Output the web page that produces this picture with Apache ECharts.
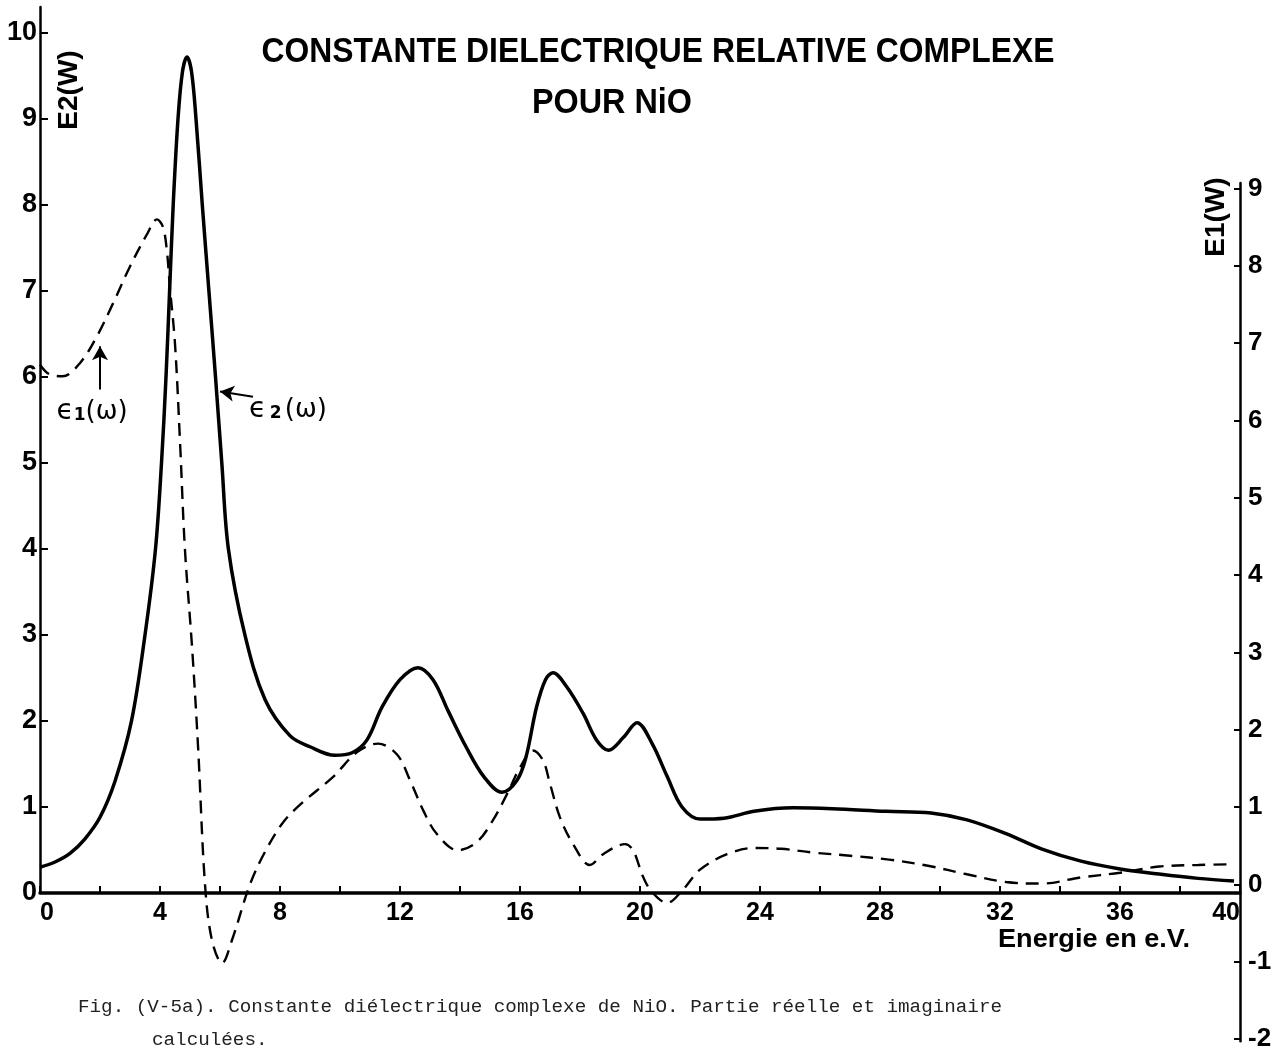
<!DOCTYPE html>
<html><head><meta charset="utf-8">
<script src="https://cdn.jsdelivr.net/npm/echarts@6/dist/echarts.min.js"></script>
<style>html,body{margin:0;padding:0;background:#fff}#c{width:1283px;height:1052px}</style>
</head><body><div id="c"></div>
<script>
// E2(W) — imaginary part (solid), left axis
const e2Energy = [0, 0.5, 1.0, 1.5, 2.0, 2.5, 3.05, 3.5, 3.85, 4.05, 4.2, 4.32, 4.44, 4.6, 4.75, 4.9, 5.05, 5.2, 5.41, 5.63, 5.85, 6.06, 6.28, 6.83, 7.5, 8.33, 9.0, 9.83, 10.4, 10.9, 11.4, 12.0, 12.6, 13.1, 13.6, 14.2, 14.8, 15.4, 15.9, 16.2, 16.55, 16.85, 17.1, 17.55, 18.1, 18.55, 18.95, 19.45, 19.9, 20.4, 20.9, 21.4, 22.0, 22.8, 23.8, 25.1, 26.4, 28.2, 29.7, 30.9, 32.2, 33.4, 34.7, 36.0, 37.3, 38.6, 39.8];
const e2Values = [0.30, 0.36, 0.46, 0.63, 0.88, 1.3, 2.0, 3.0, 4.0, 5.0, 6.0, 7.0, 8.0, 9.0, 9.55, 9.72, 9.55, 9.0, 8.0, 7.0, 6.0, 5.0, 4.0, 3.0, 2.25, 1.83, 1.7, 1.6, 1.63, 1.78, 2.16, 2.48, 2.62, 2.48, 2.12, 1.70, 1.35, 1.17, 1.31, 1.58, 2.16, 2.48, 2.56, 2.4, 2.09, 1.78, 1.66, 1.81, 1.98, 1.74, 1.36, 1.0, 0.86, 0.87, 0.95, 0.99, 0.98, 0.95, 0.93, 0.85, 0.69, 0.51, 0.37, 0.28, 0.22, 0.17, 0.14];
// E1(W) — real part (dashed), right axis
const e1Energy = [0, 0.3, 0.75, 1.33, 1.9, 2.43, 3.0, 3.57, 3.9, 4.1, 4.23, 4.33, 4.5, 4.67, 4.83, 5.07, 5.27, 5.5, 5.73, 6.07, 6.4, 7.0, 7.5, 8.1, 8.7, 9.77, 10.57, 11.27, 11.9, 12.33, 12.77, 13.23, 13.93, 14.57, 15.1, 15.57, 16.0, 16.43, 16.77, 17.0, 17.33, 17.77, 18.33, 18.77, 19.5, 19.77, 20.1, 20.4, 20.9, 21.43, 22.0, 22.9, 23.8, 24.7, 25.8, 27.0, 28.3, 29.6, 30.9, 32.2, 33.4, 34.7, 36.0, 37.3, 38.6, 39.8];
const e1Values = [6.72, 6.6, 6.57, 6.74, 7.09, 7.51, 7.99, 8.41, 8.6, 8.5, 8.19, 7.72, 6.99, 5.7, 4.34, 3.06, 1.77, 0, -0.72, -1.02, -0.72, 0, 0.42, 0.8, 1.04, 1.39, 1.71, 1.82, 1.68, 1.35, 0.96, 0.65, 0.44, 0.55, 0.83, 1.17, 1.51, 1.73, 1.6, 1.3, 0.87, 0.52, 0.25, 0.39, 0.52, 0.44, 0.1, -0.1, -0.24, -0.07, 0.19, 0.39, 0.47, 0.46, 0.41, 0.37, 0.32, 0.24, 0.13, 0.03, 0.01, 0.09, 0.15, 0.23, 0.25, 0.26];

const leftTicks = [0, 1, 2, 3, 4, 5, 6, 7, 8, 9, 10];
const rightTicks = [-2, -1, 0, 1, 2, 3, 4, 5, 6, 7, 8, 9];

// annotation arrows (data coordinates)
const arrowE1 = [[2, 6.4], [2, 6.96]];
const arrowE2 = [[7.1, 5.77], [6.0, 5.83]];

const titleLine1 = 'CONSTANTE DIELECTRIQUE RELATIVE COMPLEXE';
const titleLine2 = 'POUR NiO';
const captionLine1 = 'Fig. (V-5a). Constante diélectrique complexe de NiO. Partie réelle et imaginaire';
const captionLine2 = 'calculées.';

const e2Data = e2Energy.map((x, i) => [x, e2Values[i]]);
const e1Data = e1Energy.map((x, i) => [x, e1Values[i]]);

const measureCtx = document.createElement('canvas').getContext('2d');
function fitScale(text, font, targetWidth) {
  measureCtx.font = font;
  return targetWidth / measureCtx.measureText(text).width;
}
const TITLE_FONT = 'bold 35px "Liberation Sans"';
const t1Scale = fitScale(titleLine1, TITLE_FONT, 793);
const t2Scale = fitScale(titleLine2, TITLE_FONT, 160);
const ENER_FONT = 'bold 26px "Liberation Sans"';
const enScale = fitScale('Energie en e.V.', ENER_FONT, 192);
const CAP_FONT = '19px "Liberation Mono"';
const capScale = fitScale(captionLine1, CAP_FONT, 924);

const BOLD = {fontFamily: 'Liberation Sans', fontWeight: 'bold', color: '#000'};

const chart = echarts.init(document.getElementById('c'), null, {renderer: 'canvas'});
chart.setOption({
  backgroundColor: '#fff',
  animation: false,
  grid: [
    {left: 40, right: 43, top: 7, height: 886},
    {left: 40, right: 43, top: 183, height: 862}
  ],
  xAxis: [
    {type: 'value', gridIndex: 0, min: 0, max: 40, interval: 2,
     axisLine: {onZero: false, lineStyle: {color: '#000', width: 3.5}},
     axisTick: {inside: true, length: 7, lineStyle: {color: '#000', width: 2}},
     axisLabel: Object.assign({fontSize: 25, margin: 8, alignMinLabel: 'left', alignMaxLabel: 'right',
       formatter: v => (v % 4 === 0 ? String(v) : '')}, BOLD),
     splitLine: {show: false}},
    {type: 'value', gridIndex: 1, min: 0, max: 40, show: false}
  ],
  yAxis: [
    {type: 'value', gridIndex: 0, min: 0, max: 10.3, position: 'left',
     axisLine: {show: true, onZero: false, lineStyle: {color: '#000', width: 2.5}},
     axisTick: {show: true, inside: true, length: 8, customValues: leftTicks, lineStyle: {color: '#000', width: 2}},
     axisLabel: Object.assign({fontSize: 27, margin: 3, customValues: leftTicks}, BOLD),
     splitLine: {show: false}},
    {type: 'value', gridIndex: 1, min: -2.03, max: 9.07, position: 'right',
     axisLine: {show: true, onZero: false, lineStyle: {color: '#000', width: 2.5}},
     axisTick: {show: true, inside: true, length: 6, customValues: rightTicks, lineStyle: {color: '#000', width: 2}},
     axisLabel: Object.assign({fontSize: 26, margin: 8, customValues: rightTicks}, BOLD),
     splitLine: {show: false}}
  ],
  series: [
    {name: 'E2(W)', type: 'line', xAxisIndex: 0, yAxisIndex: 0, data: e2Data, smooth: 0.35,
     symbol: 'none', lineStyle: {color: '#000', width: 3.5},
     markLine: {silent: true, symbol: ['none', 'arrow'], symbolSize: [12, 14], label: {show: false},
       lineStyle: {color: '#000', width: 2, type: 'solid'},
       data: [[{coord: arrowE2[0]}, {coord: arrowE2[1]}]]}},
    {name: 'E1(W)', type: 'line', xAxisIndex: 1, yAxisIndex: 1, data: e1Data, smooth: 0.35,
     symbol: 'none', lineStyle: {color: '#000', width: 2.4, type: [13, 8]},
     markLine: {silent: true, symbol: ['none', 'arrow'], symbolSize: [12, 14], label: {show: false},
       lineStyle: {color: '#000', width: 2, type: 'solid'},
       data: [[{coord: arrowE1[0]}, {coord: arrowE1[1]}]]}}
  ],
  graphic: [
    {type: 'text', x: 658, y: 52, scaleX: t1Scale,
     style: {text: titleLine1, font: TITLE_FONT, fill: '#000', align: 'center', verticalAlign: 'middle'}},
    {type: 'text', x: 612, y: 103, scaleX: t2Scale,
     style: {text: titleLine2, font: TITLE_FONT, fill: '#000', align: 'center', verticalAlign: 'middle'}},
    {type: 'text', x: 69, y: 90, rotation: Math.PI / 2,
     style: {text: 'E2(W)', fontFamily: 'Liberation Sans', fontWeight: 'bold', fontSize: 28, fill: '#000', align: 'center', verticalAlign: 'middle'}},
    {type: 'text', x: 1216, y: 217, rotation: Math.PI / 2,
     style: {text: 'E1(W)', fontFamily: 'Liberation Sans', fontWeight: 'bold', fontSize: 28, fill: '#000', align: 'center', verticalAlign: 'middle'}},
    {type: 'text', x: 1094, y: 940, scaleX: enScale,
     style: {text: 'Energie en e.V.', font: ENER_FONT, fill: '#000', align: 'center', verticalAlign: 'middle'}},
    {type: 'text', x: 92, y: 412,
     style: {text: '{a|ϵ}{b|1}{c|(ω)}', align: 'center', verticalAlign: 'middle',
       rich: {a: {fontFamily: 'DejaVu Sans', fontSize: 28, fill: '#000'}, b: {fontFamily: 'DejaVu Sans', fontWeight: 'bold', fontSize: 17, fill: '#000', padding: [8, 0, 0, 0]}, c: {fontFamily: 'DejaVu Sans', fontSize: 26, fill: '#000'}}}},
    {type: 'text', x: 288, y: 410,
     style: {text: '{a|ϵ} {b|2} {c|(ω)}', align: 'center', verticalAlign: 'middle',
       rich: {a: {fontFamily: 'DejaVu Sans', fontSize: 28, fill: '#000'}, b: {fontFamily: 'DejaVu Sans', fontWeight: 'bold', fontSize: 17, fill: '#000', padding: [8, 0, 0, 0]}, c: {fontFamily: 'DejaVu Sans', fontSize: 26, fill: '#000'}}}},
    {type: 'text', x: 78, y: 1007, scaleX: capScale,
     style: {text: captionLine1, font: CAP_FONT, fill: '#222', verticalAlign: 'middle'}},
    {type: 'text', x: 152, y: 1040, scaleX: capScale,
     style: {text: captionLine2, font: CAP_FONT, fill: '#222', verticalAlign: 'middle'}}
  ]
});
</script>
</body></html>
